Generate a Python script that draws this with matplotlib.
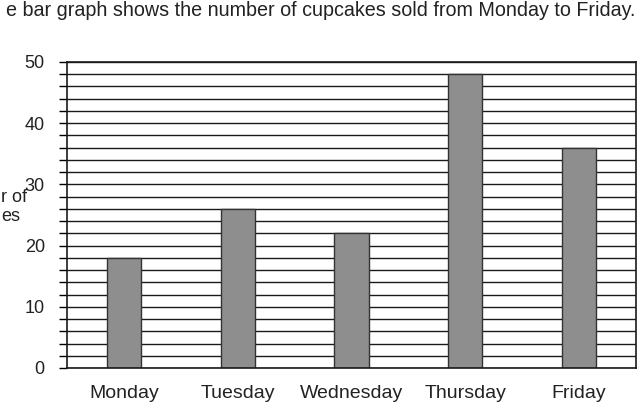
import matplotlib
matplotlib.use("Agg")
import matplotlib.pyplot as plt
import numpy as np

days = ["Monday", "Tuesday", "Wednesday", "Thursday", "Friday"]
cupcakes = [18, 26, 22, 48, 36]
yMajor = [0, 10, 20, 30, 40, 50]
yGrid = list(range(0, 51, 2))

# the scan is cropped, so only these parts of the title and axis label show
title = "e bar graph shows the number of cupcakes sold from Monday to Friday."
yLabel = "r of\nes"

plt.rcParams["font.family"] = ["Liberation Sans", "DejaVu Sans"]

W, H = 644, 405
fig = plt.figure(figsize=(W / 100, H / 100), dpi=100)
ax = fig.add_axes([67 / W, (H - 368) / H, (636 - 67) / W, (368 - 62) / H])

x = np.arange(len(days))
# gridlines every 2 behind the bars
for g in yGrid:
    ax.axhline(g, color="#1a1a1a", lw=1.0, zorder=1)
ax.bar(x, cupcakes, width=0.3, color="#8e8e8e", edgecolor="#333333",
       linewidth=1.0, zorder=2)

ax.set_xlim(-0.5, 4.5)
ax.set_ylim(0, 50)
ax.set_xticks(x)
ax.set_xticklabels(days, fontsize=14, color="#222222")
ax.tick_params(axis="x", length=0, pad=12)
ax.set_yticks(yMajor)
ax.set_yticks(yGrid, minor=True)
ax.tick_params(axis="y", which="both", length=6, width=1.0, direction="out",
               labelsize=13, labelcolor="#222222", pad=10)
for s in ax.spines.values():
    s.set_linewidth(1.2)
    s.set_color("#1a1a1a")

fig.text(635 / W, (H - 16.5) / H, title, ha="right", va="baseline",
         fontsize=14.2, color="#222222")
fig.text(1 / W, (H - 207) / H, yLabel, ha="left", va="center",
         fontsize=13, color="#222222", linespacing=1.15)

fig.savefig("out.png", dpi=100)
